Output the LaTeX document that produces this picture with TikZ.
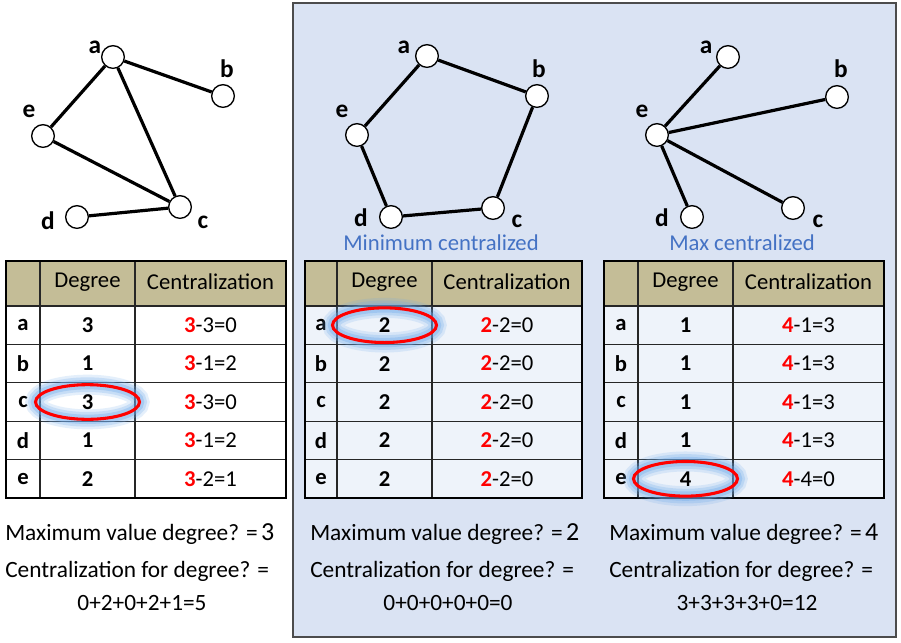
\documentclass[tikz,border=0pt]{standalone}
\usepackage{fontspec}
\setmainfont{Carlito}
\usetikzlibrary{positioning,shapes.geometric}
\definecolor{panel}{RGB}{218,227,243}
\definecolor{tan}{RGB}{196,189,151}
\definecolor{capblue}{RGB}{68,114,196}
\definecolor{glow}{RGB}{110,170,235}
\colorlet{rowfill}{panel!45!white}

% table: prefix, left, col1, col2, right, body fill, max degree, rows
\newcommand\degtable[8]{
  \fill[tan] (#2,261) rectangle (#5,306);
  \fill[#6] (#2,306) rectangle (#5,498);
  \draw[grid] (#3,261) -- (#3,498) (#4,261) -- (#4,498);
  \foreach \y in {306,344.4,382.8,421.2,459.6} \draw[grid] (#2,\y) -- (#5,\y);
  \draw[frame] (#2,261) rectangle (#5,498);
  \node[cell] (#1-deg) at ({(#3+#4)/2},282) {Degree};
  \node[cell] (#1-cen) at ({(#4+#5)/2},282) {Centralization};
  \foreach \v/\d/\r [count=\i] in {#8} {
    \node[bcell] (#1-\v) at ({(#2+#3)/2},{286.8+38.4*\i}) {\v};
    \node[bcell] (#1-\v-deg) at ({(#3+#4)/2},{286.8+38.4*\i}) {\d};
    \node[cell] (#1-\v-cen) at ({(#4+#5)/2},{286.8+38.4*\i}) {\textcolor{red}{\textbf{#7}}-\r};
  }
}
\newcommand\bigdigit[1]{{\fontsize{19.5}{20}\selectfont #1}}

\begin{document}
\begin{tikzpicture}[x=0.75pt, y=-0.75pt,
    vertex/.style={circle, draw=black, fill=white, line width=1pt, minimum size=17pt, inner sep=0pt},
    vlabel/.style={font=\fontsize{19}{20}\selectfont\bfseries, inner sep=1pt},
    edge/.style={draw, line width=2.4pt},
    cell/.style={font=\fontsize{17}{18}\selectfont},
    bcell/.style={font=\fontsize{17}{18}\selectfont\bfseries},
    grid/.style={line width=1pt, black!85},
    frame/.style={line width=2.2pt},
    hilite/.style={ellipse, draw=red, line width=2.3pt, minimum width=78pt, minimum height=26pt, inner sep=0pt,
      preaction={draw=glow, line width=15pt, draw opacity=.18},
      preaction={draw=glow, line width=11pt, draw opacity=.25},
      preaction={draw=glow, line width=7pt, draw opacity=.35}},
    captext/.style={font=\fontsize{17}{18}\selectfont, text=capblue, inner sep=0pt},
    note/.style={font=\fontsize{17.5}{20}\selectfont, anchor=base west, inner sep=0pt}
  ]
  \useasboundingbox (0,0) rectangle (901,643);
  \fill[panel, draw=black!70, line width=1.2pt] (293,3) rectangle (896,637);

  % left graph
  \begin{scope}[every node/.style={vertex}]
  \node (La) at (113,57) {};
  \node (Lb) at (223,96) {};
  \node (Le) at (43,136) {};
  \node (Lc) at (180,207) {};
  \node (Ld) at (77,217) {};
  \end{scope}
  \begin{scope}[every node/.style={vlabel}]
  \node (La-l) at (95,47) {a};
  \node (Lb-l) at (227,69) {b};
  \node (Le-l) at (29,111) {e};
  \node (Ld-l) at (48,221) {d};
  \node (Lc-l) at (203,222) {c};
  \end{scope}
  \begin{scope}[every path/.style={edge}]
  \path (La) -- (Lb);
  \path (La) -- (Le);
  \path (La) -- (Lc);
  \path (Le) -- (Lc);
  \path (Ld) -- (Lc);
  \end{scope}

  % middle graph
  \begin{scope}[every node/.style={vertex}]
  \node (Ma) at (427,56) {};
  \node (Mb) at (537,96) {};
  \node (Me) at (357,135) {};
  \node (Md) at (391,217) {};
  \node (Mc) at (493,208) {};
  \end{scope}
  \begin{scope}[every node/.style={vlabel}]
  \node (Ma-l) at (404,47) {a};
  \node (Mb-l) at (539,69) {b};
  \node (Me-l) at (342,111) {e};
  \node (Md-l) at (361,218) {d};
  \node (Mc-l) at (517,221) {c};
  \end{scope}
  \begin{scope}[every path/.style={edge}]
  \path (Ma) -- (Mb);
  \path (Mb) -- (Mc);
  \path (Mc) -- (Md);
  \path (Md) -- (Me);
  \path (Me) -- (Ma);
  \end{scope}
  \node[captext] (Mcap) at (441,243) {Minimum centralized};

  % right graph
  \begin{scope}[every node/.style={vertex}]
  \node (Ra) at (728,57) {};
  \node (Rb) at (837,97) {};
  \node (Re) at (657,135) {};
  \node (Rd) at (692,217) {};
  \node (Rc) at (793,208) {};
  \end{scope}
  \begin{scope}[every node/.style={vlabel}]
  \node (Ra-l) at (706,47) {a};
  \node (Rb-l) at (841,69) {b};
  \node (Re-l) at (642,111) {e};
  \node (Rd-l) at (662,218) {d};
  \node (Rc-l) at (818,221) {c};
  \end{scope}
  \begin{scope}[every path/.style={edge}]
  \path (Re) -- (Ra);
  \path (Re) -- (Rb);
  \path (Re) -- (Rc);
  \path (Re) -- (Rd);
  \end{scope}
  \node[captext] (Rcap) at (742,243) {Max centralized};

  % tables
  \degtable{L}{6}{40}{135}{286}{white}{3}{a/3/3=0, b/1/1=2, c/3/3=0, d/1/1=2, e/2/2=1}
  \degtable{M}{305}{337}{432}{582}{rowfill}{2}{a/2/2=0, b/2/2=0, c/2/2=0, d/2/2=0, e/2/2=0}
  \degtable{R}{604}{638}{733}{884}{rowfill}{4}{a/1/1=3, b/1/1=3, c/1/1=3, d/1/1=3, e/4/4=0}
  \node[hilite] (L-mark) at (L-c-deg) {};
  \node[hilite] (M-mark) at (M-a-deg) {};
  \node[hilite] (R-mark) at (R-e-deg) {};

  % sums
  \node[note] (L-max) at (5,540) {Maximum value degree? =\kern2.5pt\bigdigit{3}};
  \node[note] (L-sum) at (5,577) {Centralization for degree? =};
  \node[note, anchor=base] (L-tot) at (142,610) {0+2+0+2+1=5};
  \node[note] (M-max) at (310,540) {Maximum value degree? =\kern2.5pt\bigdigit{2}};
  \node[note] (M-sum) at (310,577) {Centralization for degree? =};
  \node[note, anchor=base] (M-tot) at (448,610) {0+0+0+0+0=0};
  \node[note] (R-max) at (609,540) {Maximum value degree? =\kern2.5pt\bigdigit{4}};
  \node[note] (R-sum) at (609,577) {Centralization for degree? =};
  \node[note, anchor=base] (R-tot) at (747,610) {3+3+3+3+0=12};
\end{tikzpicture}
\end{document}
